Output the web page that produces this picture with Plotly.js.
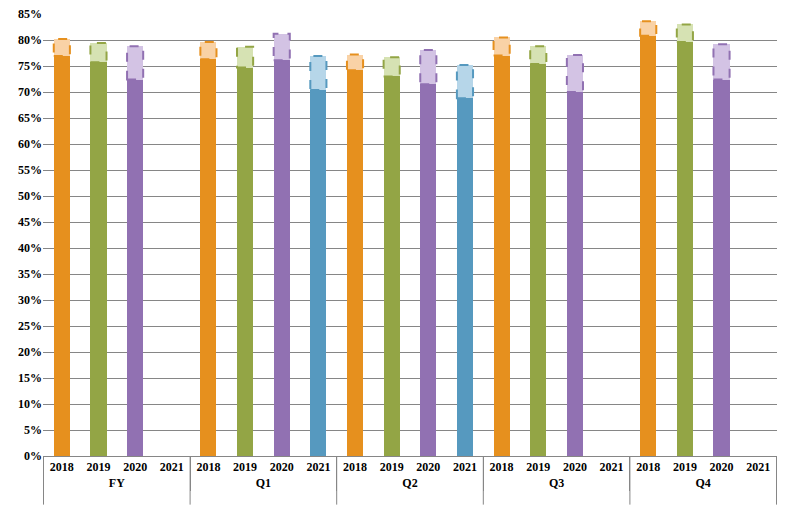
<!DOCTYPE html>
<html>
<head>
<meta charset="utf-8">
<script src="https://cdn.plot.ly/plotly-3.0.1.min.js"></script>
<style>
  html, body { margin: 0; padding: 0; background: #fff; }
  #chart { width: 792px; height: 506px; }
</style>
</head>
<body>
<div id="chart"></div>
<script>
const periods = ['FY', 'Q1', 'Q2', 'Q3', 'Q4'];
const years = ['2018', '2019', '2020', '2021'];

// solid part (bottom) and top of the dashed part, in %
const solid2018 = [76.9, 76.3, 74.2, 77.0, 80.8];
const peak2018 = [80.2, 79.6, 77.2, 80.5, 83.6];
const solid2019 = [75.7, 74.7, 73.0, 75.4, 79.6];
const peak2019 = [79.4, 78.7, 76.7, 78.8, 83.0];
const solid2020 = [72.4, 76.1, 71.5, 70.0, 72.4];
const peak2020 = [78.8, 81.2, 78.1, 77.1, 79.2];
const solid2021 = [null, 70.4, 68.8, null, null];
const peak2021 = [null, 76.9, 75.2, null, null];

const darkColors = ['#E6901E', '#93A545', '#9171B2', '#5699BF'];
const lightColors = ['#F9D2A6', '#D6E2B3', '#D3C3E4', '#B6D6E9'];

const solidByYear = [solid2018, solid2019, solid2020, solid2021];
const peakByYear = [peak2018, peak2019, peak2020, peak2021];

const barW = 0.44;
const xTop = [], xSub = [], base = [], extra = [], cDark = [], cLight = [];
const shapes = [];

periods.forEach((p, pi) => {
  years.forEach((yr, yi) => {
    const i = pi * years.length + yi;
    const s = solidByYear[yi][pi];
    const t = peakByYear[yi][pi];
    xTop.push(p);
    xSub.push(yr);
    base.push(s);
    extra.push(s === null ? null : +(t - s).toFixed(2));
    cDark.push(darkColors[yi]);
    cLight.push(lightColors[yi]);
    if (s !== null) {
      shapes.push({
        type: 'rect', xref: 'x', yref: 'y',
        x0: i - barW / 2, x1: i + barW / 2, y0: s, y1: t,
        line: { color: darkColors[yi], width: 2, dash: 'dash' }
      });
    }
  });
});

// longer group dividers below the axis, as in the original
periods.forEach((p, pi) => {
  const xb = pi * years.length - 0.5;
  shapes.push({
    type: 'line', xref: 'x', yref: 'paper', layer: 'below',
    x0: xb, x1: xb, y0: 0, y1: -0.11,
    line: { color: '#868686', width: 1 }
  });
  if (pi === periods.length - 1) {
    const xe = xb + years.length;
    shapes.push({
      type: 'line', xref: 'x', yref: 'paper', layer: 'below',
      x0: xe, x1: xe, y0: 0, y1: -0.11,
      line: { color: '#868686', width: 1 }
    });
  }
});

const font = { family: 'Times New Roman, Liberation Serif, DejaVu Serif, serif', size: 12, color: '#000', weight: 700 };

const traces = [
  {
    type: 'bar', x: [xTop, xSub], y: base, width: barW,
    marker: { color: cDark }, hoverinfo: 'skip'
  },
  {
    type: 'bar', x: [xTop, xSub], y: extra, width: barW,
    marker: { color: cLight }, hoverinfo: 'skip'
  }
];

Plotly.newPlot('chart', traces, {
  width: 792, height: 506,
  margin: { l: 43, r: 15, t: 14, b: 50 },
  barmode: 'stack',
  showlegend: false,
  paper_bgcolor: '#fff',
  plot_bgcolor: '#fff',
  font: font,
  shapes: shapes,
  xaxis: {
    type: 'multicategory',
    showline: true, linecolor: '#868686', linewidth: 1,
    showdividers: true, dividercolor: '#868686', dividerwidth: 1,
    ticks: '', tickfont: font,
    showgrid: false
  },
  yaxis: {
    range: [0, 85], dtick: 5, ticksuffix: '%',
    showgrid: true, gridcolor: '#868686', gridwidth: 1,
    zeroline: false, showline: false,
    tickfont: font, ticklen: 0
  }
}, { staticPlot: true });
</script>
</body>
</html>
